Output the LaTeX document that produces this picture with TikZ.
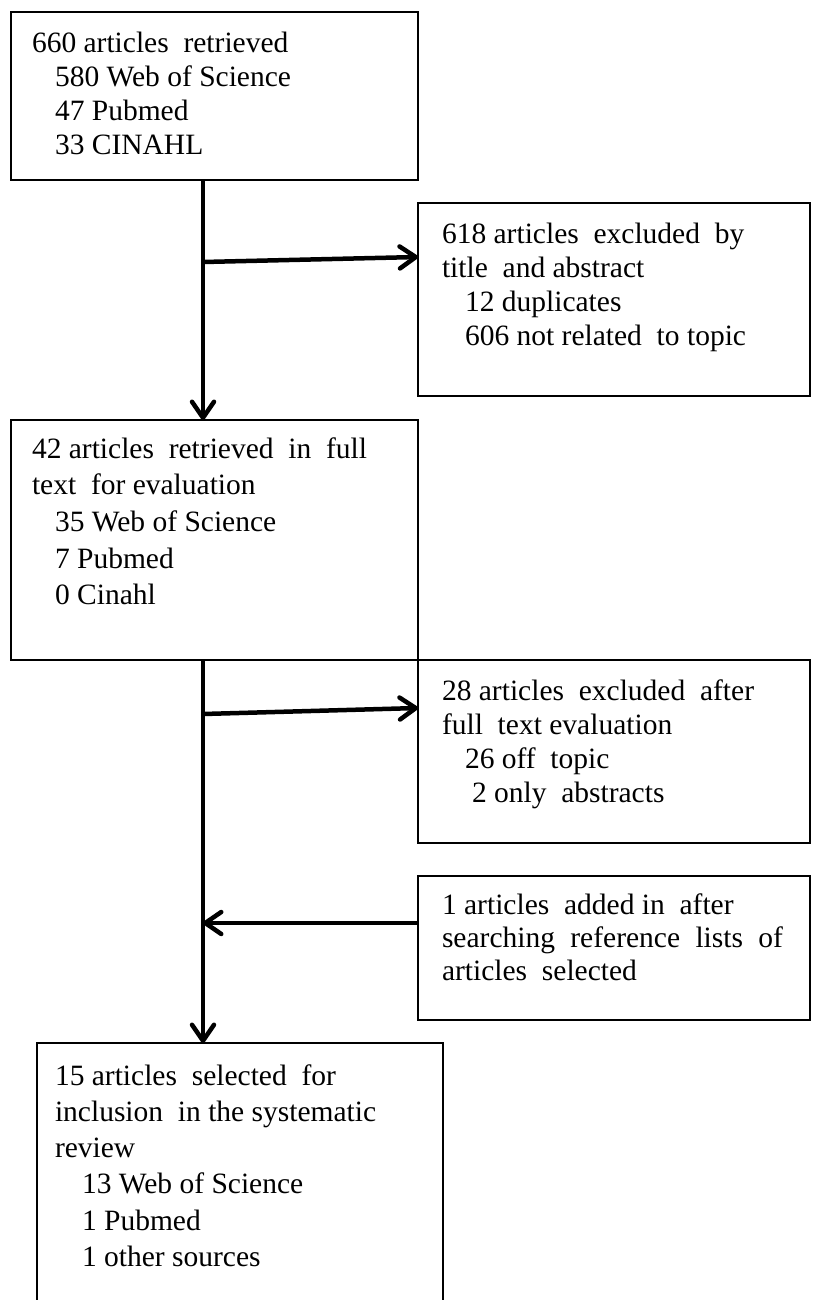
\documentclass[tikz,border=0pt]{standalone}
\usepackage{fontspec}
\setmainfont{Liberation Serif}
\usetikzlibrary{arrows.meta}
\newcommand\boxlines[2]{\vtop{\hsize=440pt\parindent=0pt\raggedright\fontsize{29.5}{#1}\selectfont\lineskiplimit=-200pt\lineskip=0pt #2\par}}
\newcommand\ind{\hspace*{23pt}}
\tikzset{
  box/.style={draw=black, line width=2.3pt, rectangle, inner sep=0pt, outer sep=0pt, anchor=north west},
  txt/.style={anchor=base west, inner sep=0pt, outer sep=0pt},
  arr/.style={line width=4.5pt, -{Straight Barb[length=16pt,width=22pt,round]}}
}
\begin{document}
\begin{tikzpicture}[x=1pt,y=-1pt]
\useasboundingbox (0,0) rectangle (812,1300);
\fill[white] (0,0) rectangle (812,1300);
\clip (0,0) rectangle (812,1300);
\coordinate (spine) at (203,0);
% boxes
\node[box, minimum width=407pt, minimum height=168pt] (top) at (11,12) {};
\node[box, minimum width=392pt, minimum height=193pt] (excl1) at (418,203) {};
\node[box, minimum width=407pt, minimum height=240pt] (full) at (11,420) {};
\node[box, minimum width=392pt, minimum height=183pt] (excl2) at (418,660) {};
\node[box, minimum width=392pt, minimum height=144pt] (added) at (418,876) {};
\node[box, minimum width=406pt, minimum height=300pt] (final) at (37,1043) {};
% texts
\node[txt] (ttop) at (32,52.5) {\boxlines{34pt}{660 articles\ \ retrieved\\ \ind 580 Web of Science\\ \ind 47 Pubmed\\ \ind 33 CINAHL}};
\node[txt] (texcl1) at (442,243) {\boxlines{34pt}{618 articles\ \ excluded\ \ by\\ title\ \ and abstract\\ \ind 12 duplicates\\ \ind 606 not related\ \ to topic}};
\node[txt] (tfull) at (32,458) {\boxlines{36.7pt}{42 articles\ \ retrieved\ \ in\ \ full\\ text\ \ for evaluation\\ \ind 35 Web of Science\\ \ind 7 Pubmed\\ \ind 0 Cinahl}};
\node[txt] (texcl2) at (442,700) {\boxlines{34pt}{28 articles\ \ excluded\ \ after\\ full\ \ text evaluation\\ \ind 26 off\ \ topic\\ \ind\hspace*{7pt}2 only\ \ abstracts}};
\node[txt] (tadded) at (442,914) {\boxlines{33pt}{1 articles\ \ added in\ \ after\\ \leavevmode\hbox to 341pt{searching\hfil reference\hfil lists\hfil of}\\ articles\ \ selected}};
\node[txt] (tfinal) at (55,1085) {\boxlines{36.3pt}{15 articles\ \ selected\ \ for\\ inclusion\ \ in the systematic\\ review\\ \hspace*{27pt}13 Web of Science\\ \hspace*{27pt}1 Pubmed\\ \hspace*{27pt}1 other sources}};
% connectors
\draw[arr] (top.south -| spine) -- (full.north -| spine);
\coordinate (j1) at (203,262);
\draw[arr] (j1) -- ([yshift=-54pt]excl1.north west);
\draw[arr] (full.south -| spine) -- (final.north -| spine);
\coordinate (j2) at (203,714);
\draw[arr] (j2) -- ([yshift=-48pt]excl2.north west);
\coordinate (a5s) at ([yshift=-47pt]added.north west);
\draw[arr] (a5s) -- (a5s -| spine);
\end{tikzpicture}
\end{document}
